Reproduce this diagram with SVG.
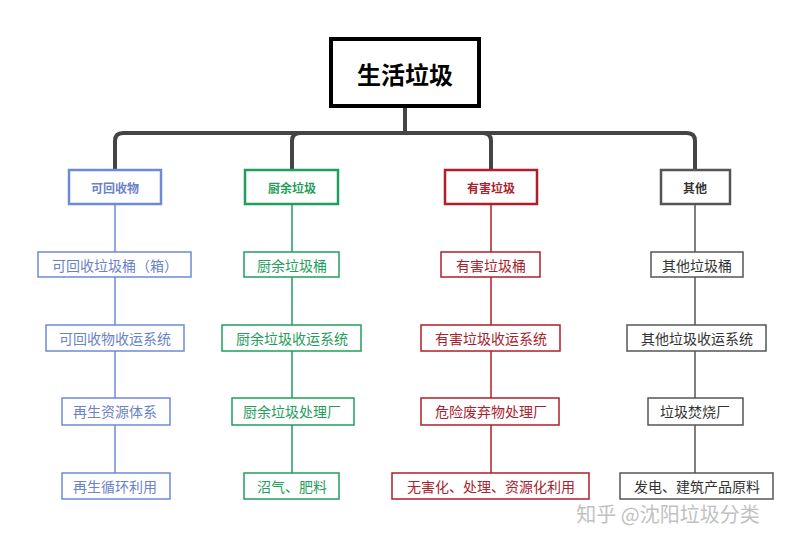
<svg xmlns="http://www.w3.org/2000/svg" width="800" height="545" viewBox="0 0 800 545">
<style>
text{font-family:"Noto Sans CJK SC","Noto Sans",sans-serif;text-anchor:middle;dominant-baseline:central}
.b rect{stroke:#6d8ad8;fill:#fff}.b text{fill:#6a82c8}
.g rect{stroke:#1f9e5c;fill:#fff}.g text{fill:#1f9e5c}
.r rect{stroke:#b01e2a;fill:#fff}.r text{fill:#a8222c}
.k rect{stroke:#555;fill:#fff}.k text{fill:#333}
.cat rect{stroke-width:2.5}.cat text{font-size:12px;font-weight:bold}
.lv rect{stroke-width:1.5}.lv text{font-size:14px}
</style>
<rect width="800" height="545" fill="#fff"/>
<g id="connectors" fill="none">
<path d="M405 106V133M115 170V141Q115 133 123 133H687Q695 133 695 141V170M292 170V141Q292 133 300 133H483Q491 133 491 141V170" stroke="#444" stroke-width="4"/>
<path d="M115 204V473" stroke="#6d8ad8" stroke-width="1.5"/>
<path d="M292 204V473" stroke="#1f9e5c" stroke-width="1.5"/>
<path d="M491 204V473" stroke="#b01e2a" stroke-width="1.5"/>
<path d="M695 204V473" stroke="#555" stroke-width="1.5"/>
</g>
<g id="root"><rect x="331" y="39" width="148" height="67" fill="#fff" stroke="#000" stroke-width="4"/><text x="405" y="73" font-size="24" font-weight="bold" fill="#000">生活垃圾</text></g>
<g id="c1" class="b cat"><rect x="69" y="170" width="92" height="34"/><text x="115" y="187">可回收物</text></g>
<g id="c2" class="g cat"><rect x="245" y="170" width="93" height="34"/><text x="292" y="187">厨余垃圾</text></g>
<g id="c3" class="r cat"><rect x="445" y="170" width="92" height="34"/><text x="491" y="187">有害垃圾</text></g>
<g id="c4" class="k cat"><rect x="661" y="170" width="69" height="34"/><text x="695" y="187">其他</text></g>
<g id="b1" class="b lv"><rect x="38" y="252" width="153" height="25"/><text x="115" y="265">可回收垃圾桶（箱）</text></g>
<g id="b2" class="b lv"><rect x="46" y="325" width="138" height="26"/><text x="115" y="338">可回收物收运系统</text></g>
<g id="b3" class="b lv"><rect x="62" y="398" width="108" height="27"/><text x="115" y="411">再生资源体系</text></g>
<g id="b4" class="b lv"><rect x="62" y="473" width="108" height="26"/><text x="115" y="486">再生循环利用</text></g>
<g id="g1" class="g lv"><rect x="244" y="252" width="95" height="25"/><text x="292" y="265">厨余垃圾桶</text></g>
<g id="g2" class="g lv"><rect x="222" y="325" width="139" height="26"/><text x="292" y="338">厨余垃圾收运系统</text></g>
<g id="g3" class="g lv"><rect x="232" y="398" width="122" height="27"/><text x="292" y="411">厨余垃圾处理厂</text></g>
<g id="g4" class="g lv"><rect x="244" y="473" width="95" height="26"/><text x="292" y="486">沼气、肥料</text></g>
<g id="r1" class="r lv"><rect x="441" y="252" width="99" height="25"/><text x="491" y="265">有害垃圾桶</text></g>
<g id="r2" class="r lv"><rect x="421" y="325" width="139" height="26"/><text x="491" y="338">有害垃圾收运系统</text></g>
<g id="r3" class="r lv"><rect x="421" y="398" width="138" height="27"/><text x="491" y="411">危险废弃物处理厂</text></g>
<g id="r4" class="r lv"><rect x="392" y="473" width="197" height="26"/><text x="491" y="486">无害化、处理、资源化利用</text></g>
<g id="k1" class="k lv"><rect x="651" y="252" width="92" height="25"/><text x="697" y="265">其他垃圾桶</text></g>
<g id="k2" class="k lv"><rect x="627" y="325" width="139" height="26"/><text x="697" y="338">其他垃圾收运系统</text></g>
<g id="k3" class="k lv"><rect x="648" y="398" width="95" height="27"/><text x="695" y="411">垃圾焚烧厂</text></g>
<g id="k4" class="k lv"><rect x="620" y="473" width="153" height="26"/><text x="697" y="486">发电、建筑产品原料</text></g>
<text x="668" y="513" font-size="20" fill="#bbb" opacity="0.9">知乎 @沈阳垃圾分类</text>
</svg>
